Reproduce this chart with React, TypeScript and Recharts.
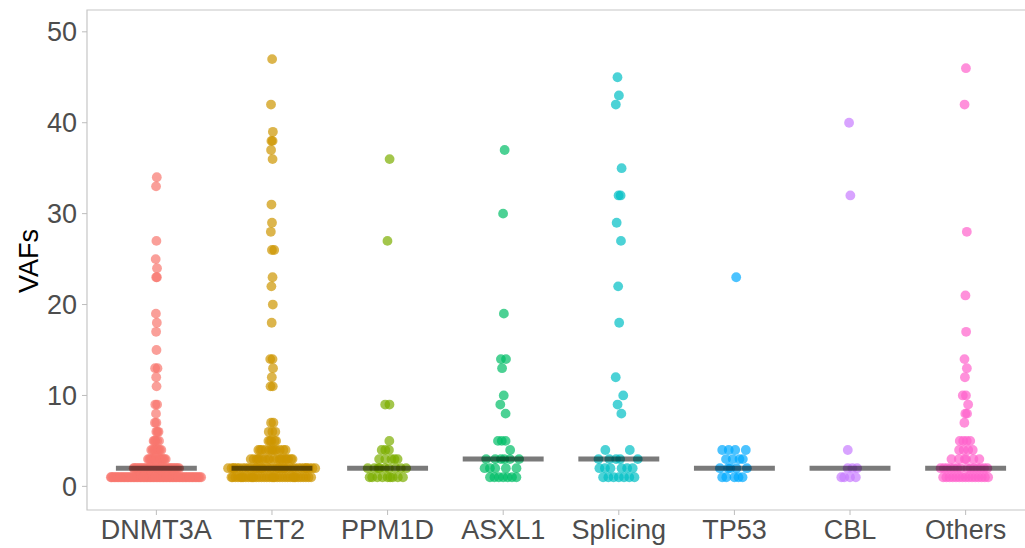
import React from 'react';
import { ScatterChart, Scatter, XAxis, YAxis, ReferenceLine, ReferenceArea } from 'recharts';

const categories = ['DNMT3A', 'TET2', 'PPM1D', 'ASXL1', 'Splicing', 'TP53', 'CBL', 'Others'];
const colors = ['#F8766D', '#CD9600', '#7CAE00', '#00BE67', '#00BFC4', '#00A9FF', '#C77CFF', '#FF61CC'];
const yTicks = [0, 10, 20, 30, 40, 50];

// VAF values (one entry per mutation)
const dnmt3aVAF = [
  1, 1, 1, 1, 1, 1, 1, 1, 1, 1, 1, 1, 1, 1, 1, 1,
  1, 1, 1, 1, 1, 1, 1, 1, 1, 1, 1, 1, 1, 1, 1, 1,
  1, 1, 1, 1, 1, 1, 1, 1, 1, 1, 1, 1, 1, 1, 1, 1,
  1, 1, 1, 1, 1, 1, 1, 1, 1, 1, 1, 1, 1, 1, 1, 1,
  2, 2, 2, 2, 2, 2, 2, 2, 2, 2, 2, 2, 2, 2, 2, 2,
  2, 2, 2, 2, 2, 2, 2, 2, 2, 2, 2, 2, 2, 2, 2, 2, 2,
  3, 3, 3, 3, 3, 3, 3, 3, 3, 3, 3, 3, 3, 3,
  4, 4, 4, 4, 4, 4, 4, 4,
  5, 5, 5, 5, 5,
  6, 6, 6,
  7, 7,
  8, 9, 9, 11, 12, 13, 13, 15, 17, 18, 19, 23, 23, 24, 25, 27, 33, 34,
];
const tet2VAF = [
  1, 1, 1, 1, 1, 1, 1, 1, 1, 1, 1, 1, 1, 1, 1, 1, 1, 1,
  1, 1, 1, 1, 1, 1, 1, 1, 1, 1, 1, 1, 1, 1, 1, 1, 1, 1,
  2, 2, 2, 2, 2, 2, 2, 2, 2, 2, 2, 2, 2, 2, 2, 2, 2, 2, 2,
  2, 2, 2, 2, 2, 2, 2, 2, 2, 2, 2, 2, 2, 2, 2, 2, 2, 2, 2,
  3, 3, 3, 3, 3, 3, 3, 3, 3, 3, 3, 3, 3, 3, 3, 3, 3, 3, 3,
  4, 4, 4, 4, 4, 4, 4, 4, 4, 4, 4, 4,
  5, 5, 5, 5, 5,
  6, 6, 6,
  7, 7,
  11, 11, 12, 13, 14, 14, 18, 20, 22, 23, 26, 26, 28, 29, 31, 36, 37, 38, 38, 39, 42, 47,
];
const ppm1dVAF = [
  1, 1, 1, 1, 1, 1, 1, 1, 1,
  2, 2, 2, 2, 2, 2, 2, 2, 2,
  3, 3, 3, 3, 3,
  4, 4, 4,
  5, 9, 9, 27, 36,
];
const asxl1VAF = [
  1, 1, 1, 1, 1, 1, 1,
  2, 2, 2, 2, 2,
  3, 3, 3, 3, 3, 3,
  4, 5, 5, 5,
  8, 9, 10, 13, 14, 14, 19, 30, 37,
];
const splicingVAF = [
  1, 1, 1, 1, 1, 1, 1,
  2, 2, 2, 2, 2, 2,
  3, 3, 3, 3, 3,
  4, 4,
  8, 9, 10, 12, 18, 22, 27, 29, 32, 32, 35, 42, 43, 45,
];
const tp53VAF = [
  1, 1, 1, 1, 1,
  2, 2, 2, 2, 2,
  3, 3, 3, 3,
  4, 4, 4, 4,
  23,
];
const cblVAF = [1, 1, 1, 1, 2, 2, 2, 4, 32, 40];
const othersVAF = [
  1, 1, 1, 1, 1, 1, 1, 1, 1, 1, 1, 1, 1, 1, 1,
  2, 2, 2, 2, 2, 2, 2, 2, 2, 2, 2, 2, 2, 2,
  3, 3, 3, 3, 3, 3,
  4, 4, 4, 4,
  5, 5, 5, 5,
  7, 8, 8, 9, 10, 10, 12, 13, 14, 17, 21, 28, 42, 46,
];

const groupValues = [dnmt3aVAF, tet2VAF, ppm1dVAF, asxl1VAF, splicingVAF, tp53VAF, cblVAF, othersVAF];

// ---- quasirandom (violin-shaped) horizontal layout, like ggbeeswarm ----
function quantile7(sorted: number[], p: number) {
  const h = (sorted.length - 1) * p;
  const lo = Math.floor(h);
  const hi = Math.min(lo + 1, sorted.length - 1);
  return sorted[lo] + (h - lo) * (sorted[hi] - sorted[lo]);
}
function bwNrd0(x: number[]) {
  const n = x.length;
  const mean = x.reduce((a, b) => a + b, 0) / n;
  const sd = Math.sqrt(x.reduce((a, b) => a + (b - mean) * (b - mean), 0) / (n - 1));
  const s = [...x].sort((a, b) => a - b);
  const iqr = quantile7(s, 0.75) - quantile7(s, 0.25);
  let lo = Math.min(sd, iqr / 1.34);
  if (!lo) lo = sd || Math.abs(x[0]) || 1;
  return 0.9 * lo * Math.pow(n, -0.2);
}
function vdc(i: number) {
  let r = 0;
  let f = 0.5;
  while (i > 0) {
    r += f * (i % 2);
    i = Math.floor(i / 2);
    f /= 2;
  }
  return r;
}
function median(x: number[]) {
  const s = [...x].sort((a, b) => a - b);
  const m = Math.floor(s.length / 2);
  return s.length % 2 ? s[m] : (s[m - 1] + s[m]) / 2;
}
const maxN = Math.max(...groupValues.map((g) => g.length));
function quasiOffsets(y: number[]) {
  const n = y.length;
  const width = 0.4 * Math.sqrt(n / maxN);
  const h = 0.5 * bwNrd0(y);
  const dens = (v: number) => y.reduce((a, yj) => a + Math.exp(-0.5 * ((v - yj) / h) ** 2), 0);
  const lo = Math.min(...y) - 3 * h;
  const hi = Math.max(...y) + 3 * h;
  let dmax = 0;
  for (let k = 0; k < 1024; k++) dmax = Math.max(dmax, dens(lo + ((hi - lo) * k) / 1023));
  const order = y.map((v, i) => i).sort((a, b) => y[a] - y[b] || a - b);
  const rank: number[] = new Array(n);
  order.forEach((idx, r) => (rank[idx] = r + 1));
  return y.map((v, i) => (vdc(rank[i]) - 0.5) * 2 * (dens(v) / dmax) * width);
}

const seriesData = groupValues.map((vals, gi) => {
  const off = quasiOffsets(vals);
  return vals.map((v, i) => ({ x: gi + off[i], y: v }));
});
const medians = groupValues.map(median);

const FONT = '"Liberation Sans", Arial, Helvetica, sans-serif';

export default function App() {
  return (
    <div style={{ position: 'absolute', left: 0, top: 0, width: 1025, height: 548, overflow: 'hidden', background: '#ffffff' }}>
      <ScatterChart width={1040} height={548} margin={{ top: 10, right: 5, bottom: 0, left: 0 }}>
        <ReferenceArea x1={-0.6} x2={7.6} y1={-2.6} y2={52.4} fill="#ffffff" fillOpacity={0} stroke="#c6c6c6" strokeWidth={1.2} />
        <XAxis
          type="number"
          dataKey="x"
          domain={[-0.6, 7.6]}
          allowDataOverflow
          ticks={[0, 1, 2, 3, 4, 5, 6, 7]}
          interval={0}
          tickFormatter={(v: number) => categories[v]}
          height={38}
          axisLine={false}
          tickLine={{ stroke: '#bdbdbd' }}
          tickSize={5}
          tickMargin={5}
          tick={{ fill: '#4D4D4D', fontSize: 27, fontFamily: FONT }}
        />
        <YAxis
          type="number"
          dataKey="y"
          domain={[-2.6, 52.4]}
          allowDataOverflow
          ticks={yTicks}
          interval={0}
          width={87}
          axisLine={false}
          tickLine={{ stroke: '#bdbdbd' }}
          tickSize={5}
          tickMargin={5}
          tick={{ fill: '#4D4D4D', fontSize: 27, fontFamily: FONT }}
          label={(props: any) => {
            const vb = props.viewBox || { x: 0, y: 10, height: 500 };
            const x = vb.x + 38;
            const y = vb.y + vb.height / 2 + 1;
            return (
              <text x={x} y={y} transform={`rotate(-90, ${x}, ${y})`} textAnchor="middle" fill="#000000" fontSize={27} fontFamily={FONT}>
                VAFs
              </text>
            );
          }}
        />
        {seriesData.map((d, gi) => (
          <Scatter
            key={categories[gi]}
            name={categories[gi]}
            data={d}
            isAnimationActive={false}
            shape={(p: any) => <circle cx={p.cx} cy={p.cy} r={4.9} fill={colors[gi]} fillOpacity={0.7} />}
          />
        ))}
        {medians.map((m, gi) => (
          <ReferenceLine
            key={'med' + gi}
            segment={[{ x: gi - 0.35, y: m }, { x: gi + 0.35, y: m }]}
            stroke="#000000"
            strokeOpacity={0.52}
            strokeWidth={5}
            {...({ zIndex: 700 } as any)}
          />
        ))}
      </ScatterChart>
    </div>
  );
}
